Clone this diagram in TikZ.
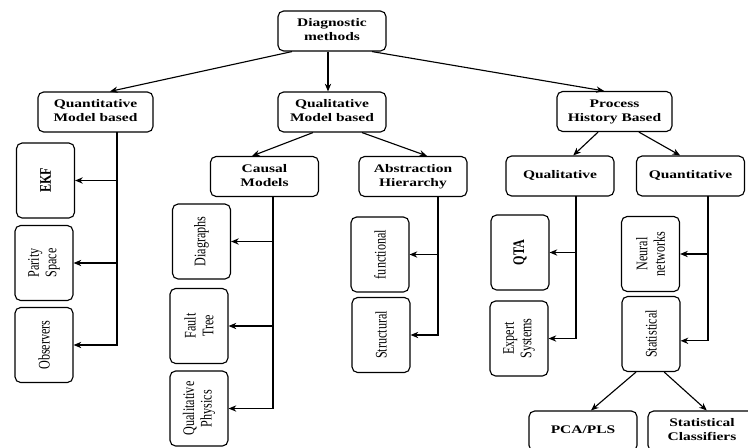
\documentclass[tikz,border=0pt]{standalone}
\usepackage{fontspec}
\setmainfont{Liberation Serif}
\newfontfamily\narrowfont[FakeStretch=0.75]{Liberation Serif}
\usepackage{graphicx}
\usetikzlibrary{arrows.meta}

\newcommand{\htext}[1]{\scalebox{1}[0.75]{\begin{tabular}{@{}c@{}}#1\end{tabular}}}

\tikzset{
  hbox/.style={draw, rounded corners=4pt, line width=0.8pt, inner sep=0pt,
    minimum width=2.7cm, minimum height=1cm, font=\fontsize{11}{13.2}\selectfont\bfseries},
  vbox/.style={draw, rounded corners=4pt, line width=0.8pt, inner sep=0pt, rotate=90,
    minimum width=1.875cm, minimum height=1.45cm, align=center,
    font=\narrowfont\fontsize{11.5}{12.5}\selectfont},
}

\begin{document}
\begin{tikzpicture}[x=0.025cm, y=-0.025cm, line width=0.8pt, >={Stealth[length=5.5pt,width=4.5pt]}]
  \useasboundingbox (0,0) rectangle (748,447);
  % top levels
  \node[hbox] (N1) at (332,31)    {\htext{Diagnostic\\methods}};
  \node[hbox, minimum width=2.875cm] (N2) at (95.5,112) {\htext{Quantitative\\Model based}};
  \node[hbox] (N3) at (332,112)   {\htext{Qualitative\\Model based}};
  \node[hbox, minimum width=2.875cm] (N4) at (614.5,111.5) {\htext{Process\\History Based}};
  \node[hbox] (N8) at (264.5,176.5)  {\htext{Causal\\Models}};
  \node[hbox] (N9) at (413,176.5)    {\htext{Abstraction\\Hierarchy}};
  \node[hbox] (N15) at (560,176)     {\htext{Qualitative}};
  \node[hbox] (N16) at (690.5,176)   {\htext{Quantitative}};
  \node[hbox] (N21) at (583,431)     {\htext{PCA/PLS}};
  \node[hbox] (N22) at (702,431)     {\htext{Statistical\\Classifiers}};
  % leaves (rotated)
  \node[vbox] (N5) at (45.5,180.5) {\bfseries EKF};
  \node[vbox] (N6) at (44,263)     {Parity\\Space};
  \node[vbox] (N7) at (44,345)     {Observers};
  \node[vbox] (N10) at (201.5,241.5) {Diagraphs};
  \node[vbox] (N11) at (199,326)     {Fault\\Tree};
  \node[vbox] (N12) at (199,408.5)   {Qualitative\\Physics};
  \node[vbox] (N13) at (380,254.5)   {functional};
  \node[vbox] (N14) at (381,335)     {Structural};
  \node[vbox] (N17) at (520,252.5)   {\bfseries QTA};
  \node[vbox] (N18) at (519,338.5)   {Expert\\Systems};
  \node[vbox] (N19) at (650.5,254)   {Neural\\networks};
  \node[vbox] (N20) at (651,334)     {Statistical};
  % buses
  \coordinate (B2) at (117,132);
  \coordinate (B8) at (273,197);
  \coordinate (B9) at (438,197);
  \coordinate (B15) at (576,196);
  \coordinate (B16) at (708,196);
  \path[->] ([xshift=-1cm]N1.south) edge ([xshift=0.36cm]N2.north);
  \path[->] ([xshift=-0.1cm]N1.south) edge ([xshift=-0.1cm]N3.north);
  \path[->] ([xshift=1cm]N1.south) edge ([xshift=-0.26cm]N4.north);
  \path[->] ([xshift=-0.475cm]N3.south) edge ([xshift=-0.31cm]N8.north);
  \path[->] ([xshift=0.75cm]N3.south) edge ([xshift=0.35cm]N9.north);
  \path[->] ([xshift=-0.41cm]N4.south) edge ([xshift=0.33cm]N15.north);
  \path[->] ([xshift=0.61cm]N4.south) edge ([xshift=-0.26cm]N16.north);
  \path[->] ([xshift=-0.375cm]N20.west) edge ([xshift=0.2cm]N21.north);
  \path[->] ([xshift=0.33cm]N20.west) edge ([xshift=0.12cm]N22.north);
  \draw[->] (B2) |- (N7);
  \draw[->] (B2 |- N5) -- (N5);
  \draw[->] (B2 |- N6) -- (N6);
  \draw[->] (B8) |- (N12);
  \draw[->] (B8 |- N10) -- (N10);
  \draw[->] (B8 |- N11) -- (N11);
  \draw[->] (B9) |- (N14);
  \draw[->] (B9 |- N13) -- (N13);
  \draw[->] (B15) |- (N18);
  \draw[->] (B15 |- N17) -- (N17);
  \draw[->] (B16) |- ([yshift=-0.17cm]N20.south);
  \draw[->] (B16 |- N19) -- (N19);
\end{tikzpicture}
\end{document}
